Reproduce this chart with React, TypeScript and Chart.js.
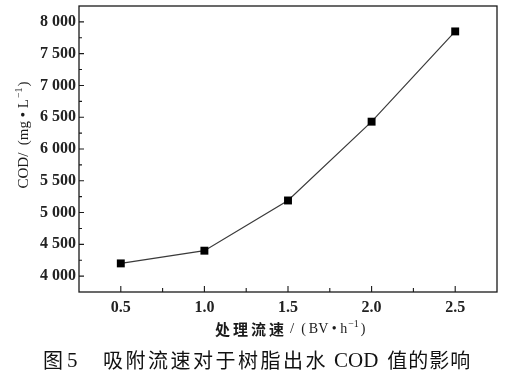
import React, { useEffect, useRef } from "react";
import { Chart, registerables } from "chart.js";

Chart.register(...registerables);

const flowRates = [0.5, 1.0, 1.5, 2.0, 2.5];
const codValues = [4200, 4400, 5190, 6430, 7850];
const xMajorTicks = [0.5, 1.0, 1.5, 2.0, 2.5];
const xMinorTicks = [0.75, 1.25, 1.75, 2.25];
const yMajorTicks = [4000, 4500, 5000, 5500, 6000, 6500, 7000, 7500, 8000];
const yMinorTicks = [4250, 4750, 5250, 5750, 6250, 6750, 7250, 7750];
const xTitleCn = "处理流速";
const xTitleUnit = "BV • h";
const yTitleMain = "COD/  (mg • L";
const captionLabel = "图";
const captionNum = "5";
const captionPart1 = "吸附流速对于树脂出水";
const captionCod = "COD";
const captionPart2 = "值的影响";

const SERIF = '"Liberation Serif"';
const CJK = '"Noto Sans CJK SC"';

function run(ctx: CanvasRenderingContext2D, text: string, font: string, x: number, y: number, pitch?: number): number {
  ctx.font = font;
  if (pitch) {
    for (let i = 0; i < text.length; i++) ctx.fillText(text[i], x + i * pitch, y);
    return x + text.length * pitch;
  }
  ctx.fillText(text, x, y);
  return x + ctx.measureText(text).width;
}

const decorPlugin = {
  id: "decor",
  afterDraw(chart: any) {
    const ctx: CanvasRenderingContext2D = chart.ctx;
    const { left, right, top, bottom } = chart.chartArea;
    const xs = chart.scales.x;
    const ys = chart.scales.y;
    ctx.save();
    ctx.strokeStyle = "#1a1a1a";
    ctx.lineWidth = 1.3;
    ctx.strokeRect(left, top, right - left, bottom - top);
    ctx.lineWidth = 1.1;
    ctx.beginPath();
    for (const v of xMajorTicks) {
      const px = xs.getPixelForValue(v);
      ctx.moveTo(px, bottom); ctx.lineTo(px, bottom - 6);
    }
    for (const v of xMinorTicks) {
      const px = xs.getPixelForValue(v);
      ctx.moveTo(px, bottom); ctx.lineTo(px, bottom - 4);
    }
    for (const v of yMajorTicks) {
      const py = ys.getPixelForValue(v);
      ctx.moveTo(left, py); ctx.lineTo(left + 5, py);
    }
    for (const v of yMinorTicks) {
      const py = ys.getPixelForValue(v);
      ctx.moveTo(left, py); ctx.lineTo(left + 3, py);
    }
    ctx.stroke();

    ctx.fillStyle = "#1a1a1a";
    ctx.textBaseline = "middle";
    ctx.textAlign = "left";
    // x axis title
    let x = run(ctx, xTitleCn, `bold 15px ${CJK}`, 215, 329, 18);
    x = run(ctx, "/", `15px ${SERIF}`, x + 3, 329);
    x = run(ctx, "(", `14px ${SERIF}`, x + 7, 329);
    x = run(ctx, xTitleUnit, `14px ${SERIF}`, x + 3, 329);
    x = run(ctx, "−1", `10px ${SERIF}`, x + 1, 324);
    run(ctx, ")", `14px ${SERIF}`, x + 2, 329);

    // y axis title (rotated)
    ctx.save();
    ctx.translate(24, 135);
    ctx.rotate(-Math.PI / 2);
    ctx.font = `15px ${SERIF}`;
    const w1 = ctx.measureText(yTitleMain).width;
    ctx.font = `10px ${SERIF}`;
    const w2 = ctx.measureText("−1").width;
    ctx.font = `15px ${SERIF}`;
    const w3 = ctx.measureText(")").width;
    let yx = -(w1 + w2 + w3 + 2) / 2;
    yx = run(ctx, yTitleMain, `15px ${SERIF}`, yx, 0);
    yx = run(ctx, "−1", `10px ${SERIF}`, yx + 1, -5);
    run(ctx, ")", `15px ${SERIF}`, yx + 1, 0);
    ctx.restore();

    // caption
    ctx.fillStyle = "#111";
    run(ctx, captionLabel, `20px ${CJK}`, 43, 360);
    run(ctx, captionNum, `21px ${SERIF}`, 67, 361);
    let cx = run(ctx, captionPart1, `20px ${CJK}`, 103, 360, 22.5);
    cx = run(ctx, captionCod, `21px ${SERIF}`, cx + 6, 361);
    run(ctx, captionPart2, `20px ${CJK}`, cx + 9, 360, 21);
    ctx.restore();
  },
};

export default function App() {
  const ref = useRef<HTMLCanvasElement | null>(null);
  useEffect(() => {
    if (!ref.current) return;
    const chart = new Chart(ref.current, {
      type: "line",
      data: {
        datasets: [
          {
            data: flowRates.map((f, i) => ({ x: f, y: codValues[i] })),
            borderColor: "#3a3a3a",
            borderWidth: 1.2,
            pointStyle: "rect",
            pointRadius: 5.6,
            pointBackgroundColor: "#000",
            pointBorderColor: "#000",
            pointBorderWidth: 0,
            tension: 0,
          },
        ],
      },
      options: {
        responsive: false,
        animation: false,
        events: [],
        layout: { padding: { top: 6, right: 33, left: 0, bottom: 0 } },
        plugins: { legend: { display: false }, tooltip: { enabled: false } },
        scales: {
          x: {
            type: "linear",
            min: 0.25,
            max: 2.75,
            grid: { display: false, drawTicks: false },
            border: { display: false },
            afterBuildTicks: (s: any) => { s.ticks = xMajorTicks.map((v) => ({ value: v })); },
            afterFit: (s: any) => { s.height = 99; s.paddingLeft = 0; s.paddingRight = 0; },
            ticks: {
              padding: 6,
              color: "#222",
              font: { family: SERIF, size: 16, weight: "bold" },
              callback: (v: any) => Number(v).toFixed(1),
            },
          },
          y: {
            type: "linear",
            min: 3750,
            max: 8250,
            grid: { display: false, drawTicks: false },
            border: { display: false },
            afterBuildTicks: (s: any) => { s.ticks = yMajorTicks.map((v) => ({ value: v })); },
            afterFit: (s: any) => { s.width = 79; s.paddingTop = 0; s.paddingBottom = 0; },
            ticks: {
              padding: 3,
              color: "#222",
              font: { family: SERIF, size: 16, weight: "bold" },
              callback: (v: any) => {
                const n = Number(v);
                return `${Math.floor(n / 1000)} ${String(n % 1000).padStart(3, "0")}`;
              },
            },
          },
        },
      },
      plugins: [decorPlugin],
    });
    return () => chart.destroy();
  }, []);
  return (
    <div style={{ position: "absolute", left: 0, top: 0, width: 530, height: 391, background: "#fff" }}>
      <canvas ref={ref} width={530} height={391} />
    </div>
  );
}
